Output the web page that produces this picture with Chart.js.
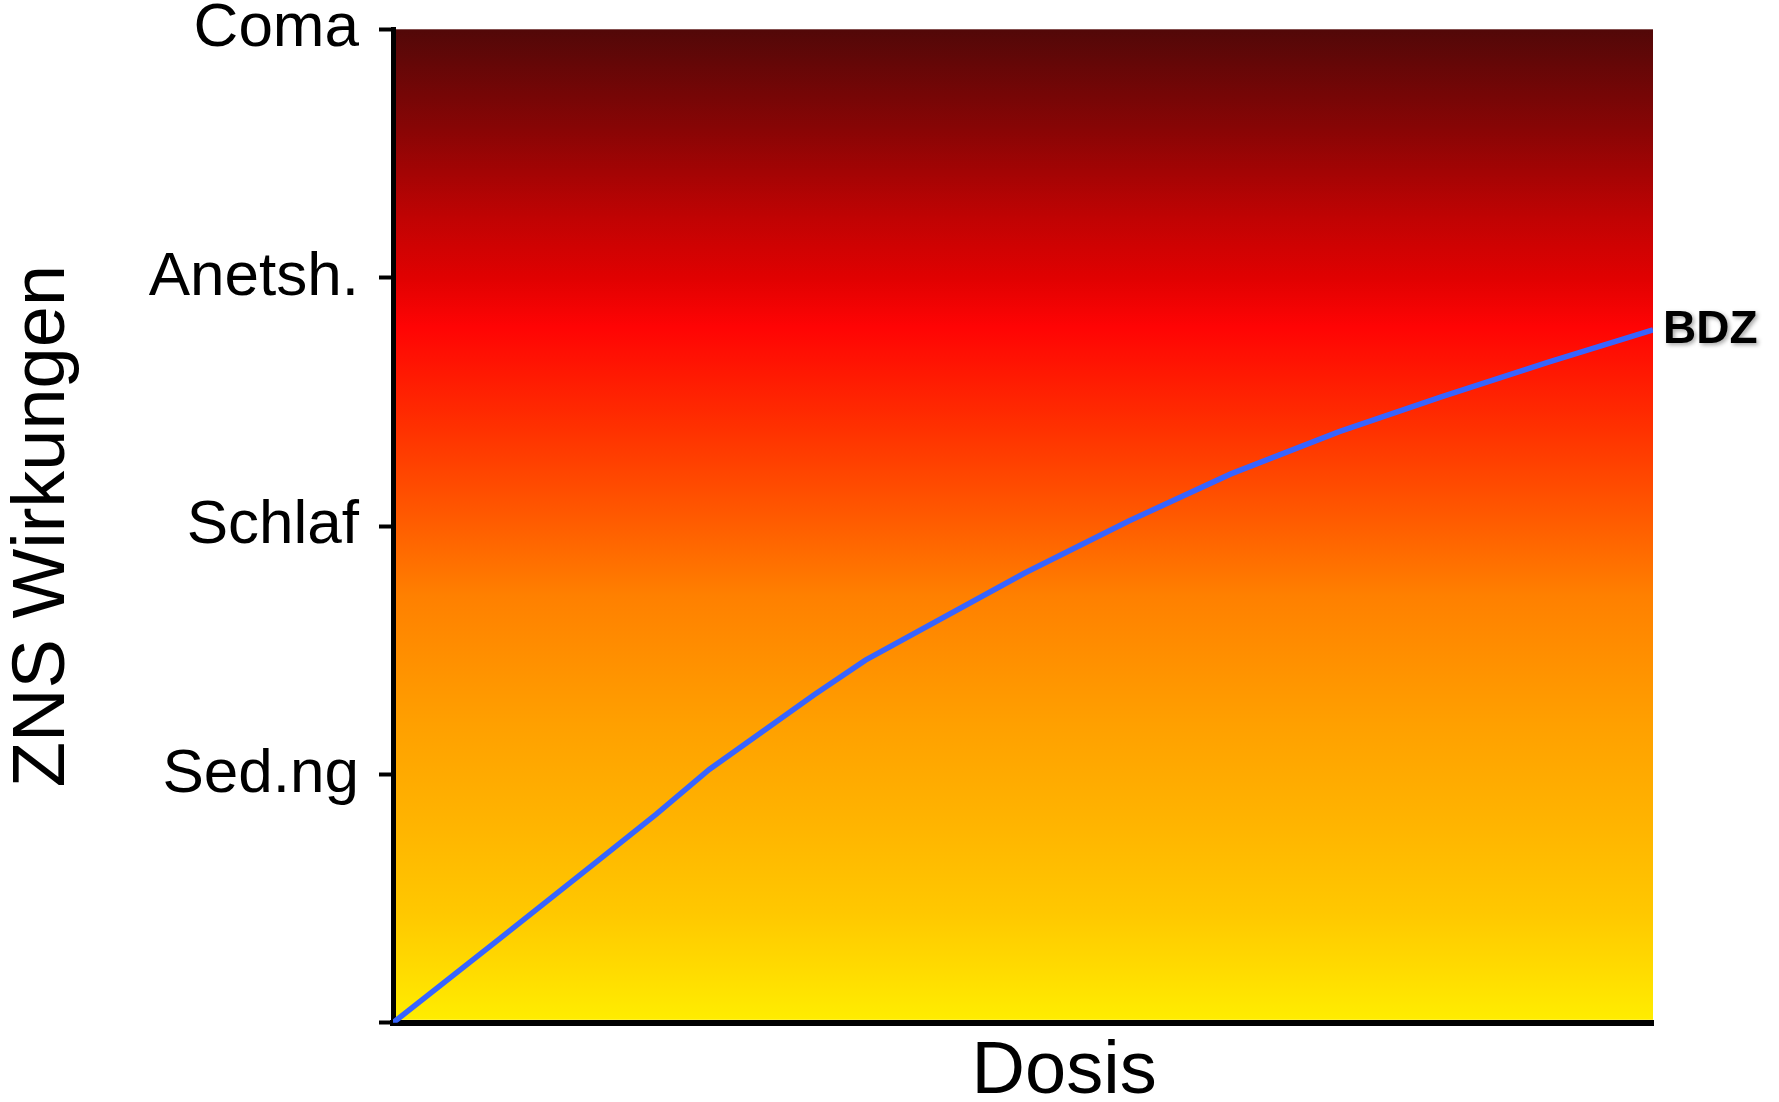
<!DOCTYPE html>
<html>
<head>
<meta charset="utf-8">
<script src="https://cdn.jsdelivr.net/npm/chart.js"></script>
<style>
  html, body { margin: 0; padding: 0; background: #fff; }
  canvas { display: block; }
</style>
</head>
<body>
<canvas id="dosisChart" width="1779" height="1102"></canvas>
<script>
// dose (0..100, arbitrary units) vs. CNS effect level (0..4)
const dosis = [0, 8.5, 15.7, 20.9, 25.1, 33.4, 37.5, 50.1, 58.4, 66.5, 75.1, 83.2, 91.7, 100];
const wirkung = [0, 0.34, 0.63, 0.84, 1.02, 1.32, 1.46, 1.81, 2.02, 2.21, 2.38, 2.52, 2.66, 2.79];
const stufen = ['', 'Sed.ng', 'Schlaf', 'Anetsh.', 'Coma'];
const kurve = 'BDZ';

const FONT = "'Liberation Sans', Arial, sans-serif";

// red/orange/yellow background behind the plot
const hintergrund = {
  id: 'hintergrund',
  beforeDraw(chart) {
    const { ctx, chartArea: a } = chart;
    const g = ctx.createLinearGradient(0, a.top, 0, a.bottom);
    g.addColorStop(0, '#520808');
    g.addColorStop(0.1, '#880505');
    g.addColorStop(0.19, '#c00303');
    g.addColorStop(0.25, '#e00101');
    g.addColorStop(0.30, '#ff0404');
    g.addColorStop(0.40, '#ff3000');
    g.addColorStop(0.5, '#ff5e00');
    g.addColorStop(0.57, '#ff8000');
    g.addColorStop(0.70, '#ffa000');
    g.addColorStop(0.8, '#ffb400');
    g.addColorStop(0.89, '#ffc800');
    g.addColorStop(0.95, '#ffdc00');
    g.addColorStop(1, '#ffee00');
    ctx.save();
    ctx.fillStyle = g;
    ctx.fillRect(a.left, a.top, a.right - a.left, a.bottom - a.top - 3);
    ctx.restore();
  }
};

// curve name next to its last point
const kurvenName = {
  id: 'kurvenName',
  afterDatasetsDraw(chart) {
    const { ctx } = chart;
    const meta = chart.getDatasetMeta(0);
    const p = meta.data[meta.data.length - 1];
    ctx.save();
    ctx.font = 'bold 46px ' + FONT;
    ctx.textAlign = 'left';
    ctx.textBaseline = 'middle';
    ctx.shadowColor = 'rgba(0,0,0,0.35)';
    ctx.shadowBlur = 4;
    ctx.shadowOffsetX = 2;
    ctx.shadowOffsetY = 2;
    ctx.fillStyle = '#000';
    ctx.fillText(kurve, p.x + 10, p.y);
    ctx.restore();
  }
};

new Chart(document.getElementById('dosisChart'), {
  type: 'line',
  data: {
    datasets: [{
      label: kurve,
      data: dosis.map((x, i) => ({ x: x, y: wirkung[i] })),
      borderColor: '#3764ff',
      borderWidth: 5.5,
      pointRadius: 0,
      tension: 0,
      fill: false
    }]
  },
  options: {
    responsive: false,
    animation: false,
    layout: { padding: { top: 0, right: 126, bottom: 0, left: 0 } },
    plugins: {
      legend: { display: false },
      tooltip: { enabled: false }
    },
    scales: {
      x: {
        type: 'linear',
        min: 0,
        max: 100,
        ticks: { display: false },
        grid: { display: true, drawOnChartArea: false, drawTicks: false },
        border: { display: true, color: '#000', width: 6 },
        title: {
          display: true,
          text: '    Dosis',
          color: '#000',
          font: { family: FONT, size: 74, lineHeight: 0.8 },
          padding: { top: 20, bottom: 0 }
        }
      },
      y: {
        type: 'linear',
        min: 0,
        max: 4,
        afterFit(scale) { scale.width = 393; },
        ticks: {
          stepSize: 1,
          color: '#000',
          padding: 20,
          // single-line labels: small lineHeight keeps the top label close to the edge
          font: { family: FONT, size: 62, lineHeight: 0.3 },
          callback: (v) => stufen[v]
        },
        grid: {
          display: true,
          drawOnChartArea: false,
          drawTicks: true,
          tickLength: 14,
          tickWidth: 4,
          tickColor: '#000'
        },
        border: { display: true, color: '#000', width: 5 },
        title: {
          display: true,
          text: 'ZNS Wirkungen',
          color: '#000',
          font: { family: FONT, size: 74, lineHeight: 1 },
          padding: { top: 7, bottom: 0 }
        }
      }
    }
  },
  plugins: [hintergrund, kurvenName]
});
</script>
</body>
</html>
